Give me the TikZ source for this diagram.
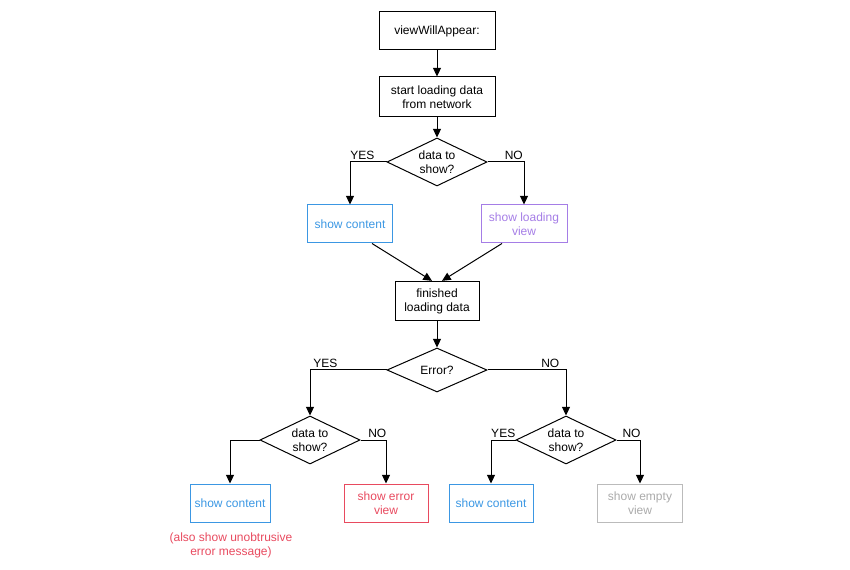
\documentclass[tikz,border=0pt]{standalone}
\usepackage{fontspec}
\setmainfont{Liberation Sans}
\usetikzlibrary{shapes.geometric,arrows.meta,calc}
\definecolor{cblue}{HTML}{3B97E3}
\definecolor{cpurple}{HTML}{A57DE6}
\definecolor{cred}{HTML}{E84A5F}
\definecolor{cgray}{HTML}{BBBBBB}
\definecolor{cgraytxt}{HTML}{AAAAAA}
\begin{document}
\begin{tikzpicture}[x=0.75pt,y=-0.75pt,
  font=\fontsize{9}{10.5}\selectfont,
  box/.style={draw, line width=0.75pt, align=center, inner sep=0pt, minimum height=28.5pt},
  dia/.style={draw, diamond, shape aspect=2.1, line width=0.75pt, align=center, inner sep=0pt, minimum width=75pt, minimum height=36pt},
  arr/.style={draw, line width=0.75pt, -{Triangle[length=6.5pt,width=6pt]}},
  lab/.style={inner sep=1.5pt, above}]
\useasboundingbox (0,0) rectangle (850,570);

\node[box, minimum width=87pt] (v) at (437,31) {viewWillAppear:};
\node[box, minimum width=87pt, minimum height=30pt] (s) at (437,97) {start loading data\\from network};
\node[dia] (d1) at (437,162) {data to\\show?};
\node[box, draw=cblue, text=cblue, minimum width=63.75pt] (sc) at (350,224) {show content};
\node[box, draw=cpurple, text=cpurple, minimum width=64.5pt] (sl) at (524,224) {show loading\\view};
\node[box, minimum width=63pt, minimum height=29.5pt] (fin) at (437,301) {finished\\loading data};
\node[dia, minimum height=33pt] (err) at (437,370) {Error?};
\node[dia] (d2) at (310,440) {data to\\show?};
\node[dia] (d3) at (566,440) {data to\\show?};
\node[box, draw=cblue, text=cblue, minimum width=60pt] (b1) at (230,503) {show content};
\node[box, draw=cred, text=cred, minimum width=63pt] (b2) at (386,503) {show error\\view};
\node[box, draw=cblue, text=cblue, minimum width=63pt] (b3) at (491,503) {show content};
\node[box, draw=cgray, text=cgraytxt, minimum width=64pt] (b4) at (640,503) {show empty\\view};
\node[text=cred, align=center] (note) at (231,545) {(also show unobtrusive\\error message)};

\draw[arr] (v) -- (s);
\draw[arr] (s) -- (d1);
\draw[arr] (d1.west) -| node[lab, pos=0.33] (l1) {YES} (sc.north);
\draw[arr] (d1.east) -| node[lab, pos=0.36] (l2) {NO} (sl.north);
\draw[arr] ($(sc.south)+(22,0)$) -- ($(fin.north)+(-5,0)$);
\draw[arr] ($(sl.south)+(-22,0)$) -- ($(fin.north)+(5,0)$);
\draw[arr] (fin) -- (err);
\draw[arr] (err.west) -| node[lab, pos=0.4] (l3) {YES} (d2.north);
\draw[arr] (err.east) -| node[lab, pos=0.4] (l4) {NO} (d3.north);
\draw[arr] (d2.west) -| (b1.north);
\draw[arr] (d2.east) -| node[lab, pos=0.33] (l5) {NO} (b2.north);
\draw[arr] (d3.west) -| node[lab, pos=0.25] (l6) {YES} (b3.north);
\draw[arr] (d3.east) -| node[lab, pos=0.32] (l7) {NO} (b4.north);
\end{tikzpicture}
\end{document}
